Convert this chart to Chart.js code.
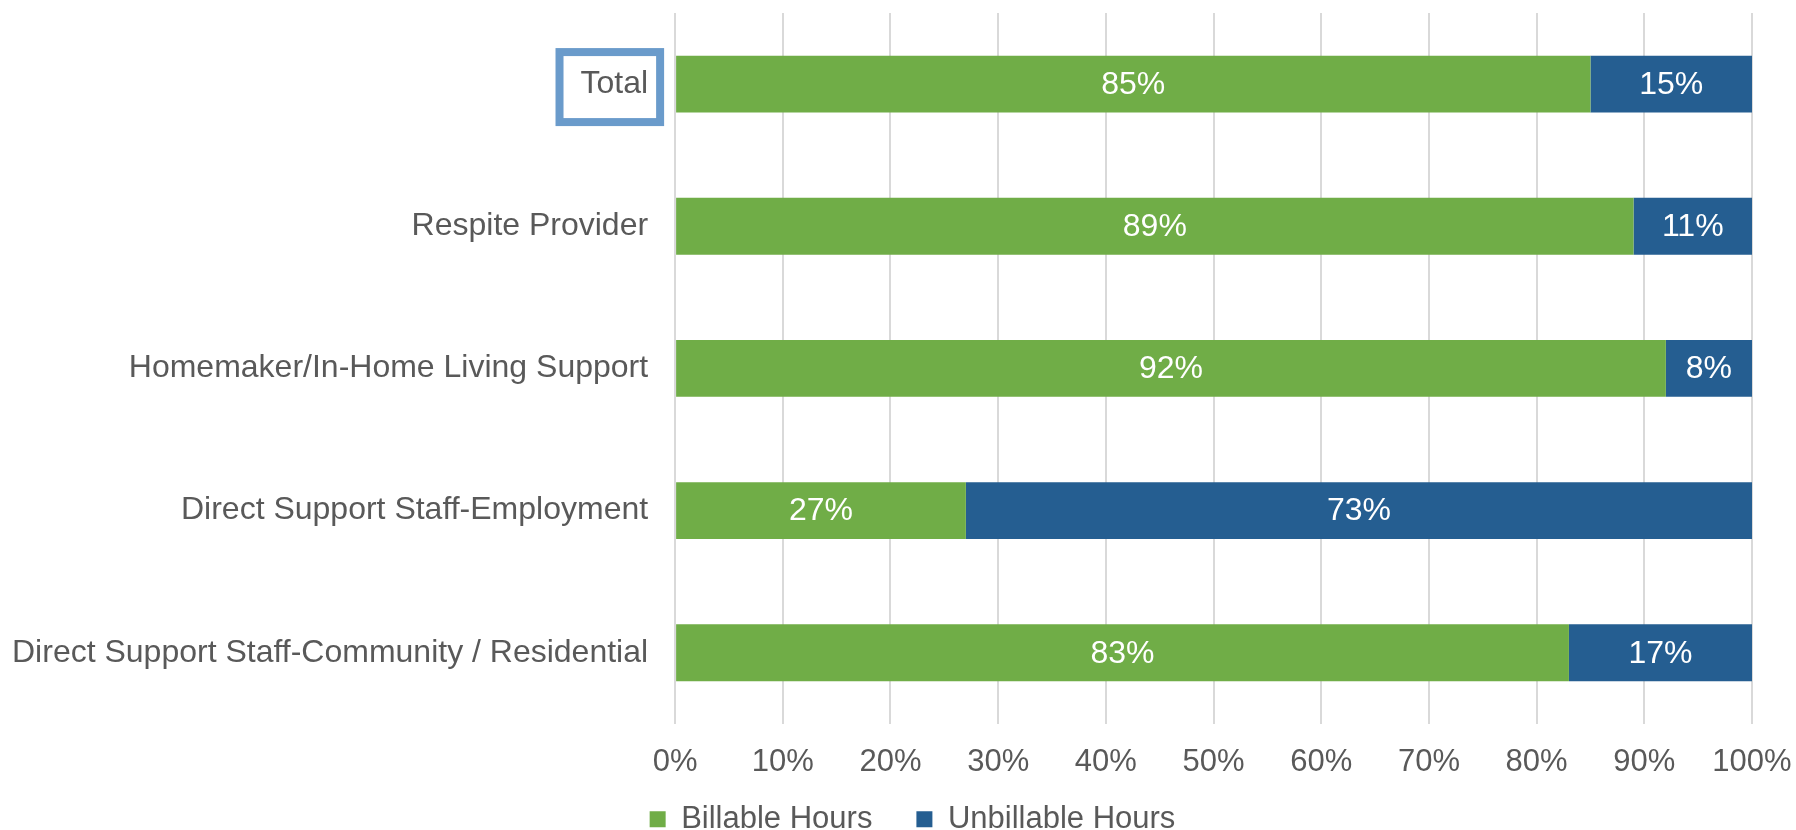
<!DOCTYPE html>
<html>
<head>
<meta charset="utf-8">
<script src="https://cdn.jsdelivr.net/npm/chart.js@4"></script>
<style>
  html, body { margin: 0; padding: 0; background: #fff; overflow: hidden; }
  #wrap { width: 1796px; height: 886px; position: relative; }
</style>
</head>
<body>
<div id="wrap"><canvas id="hoursChart"></canvas></div>
<script>
var categories = [
    'Total',
    'Respite Provider',
    'Homemaker/In-Home Living Support',
    'Direct Support Staff-Employment',
    'Direct Support Staff-Community / Residential'
];
var billable = [85, 89, 92, 27, 83];
var unbillable = [15, 11, 8, 73, 17];
var xTicks = [0, 10, 20, 30, 40, 50, 60, 70, 80, 90, 100];

var FONT = "'Liberation Sans', Arial, sans-serif";
var GREY = '#595959';
var LABEL_GAP = 19;

// white percentage in the middle of each bar segment
var segmentLabels = {
    id: 'segmentLabels',
    afterDatasetsDraw: function(chart) {
        var ctx = chart.ctx;
        ctx.save();
        ctx.font = '32px ' + FONT;
        ctx.fillStyle = '#ffffff';
        ctx.textAlign = 'center';
        ctx.textBaseline = 'middle';
        chart.data.datasets.forEach(function(ds, i) {
            chart.getDatasetMeta(i).data.forEach(function(bar, j) {
                var p = bar.getProps(['x', 'y', 'base'], true);
                ctx.fillText(Math.round(ds.data[j]) + '%', (p.x + p.base) / 2, p.y + 1);
            });
        });
        ctx.restore();
    }
};

// outline around the first category label
var totalBox = {
    id: 'totalBox',
    afterDraw: function(chart) {
        var y = chart.scales.y;
        var ctx = chart.ctx;
        ctx.save();
        ctx.font = '32px ' + FONT;
        var w = ctx.measureText(categories[0]).width;
        var textRight = chart.chartArea.left - LABEL_GAP - 8;
        var cy = y.getPixelForTick(0);
        ctx.strokeStyle = '#6A9BCB';
        ctx.lineWidth = 8;
        ctx.strokeRect(textRight - w - 21, cy - 32, w + 33, 70);
        ctx.restore();
    }
};

// sit the legend just under the axis labels
var legendPlace = {
    id: 'legendPlace',
    beforeDraw: function(chart) {
        var lg = chart.legend;
        var h = lg.height;
        lg.top = chart.chartArea.bottom + 36;
        lg.bottom = lg.top + h;
        lg.left = 31;
        lg.right = 1794;
    }
};

new Chart(document.getElementById('hoursChart'), {
    type: 'bar',
    data: {
        labels: categories,
        datasets: [
            { label: 'Billable Hours', data: billable, backgroundColor: '#70AD47' },
            { label: 'Unbillable Hours', data: unbillable, backgroundColor: '#255E91' }
        ]
    },
    options: {
        indexAxis: 'y',
        responsive: true,
        maintainAspectRatio: false,
        animation: false,
        categoryPercentage: 1,
        barPercentage: 0.4,
        layout: { padding: { top: 13, right: 44, left: -7, bottom: 0 } },
        scales: {
            x: {
                stacked: true,
                min: 0,
                max: 100,
                afterBuildTicks: function(axis) {
                    axis.ticks = xTicks.map(function(v) { return { value: v }; });
                },
                afterFit: function(axis) { axis.paddingLeft = 0; axis.paddingRight = 0; },
                grid: { color: '#D9D9D9', lineWidth: 2, drawTicks: false },
                border: { display: false },
                ticks: {
                    color: GREY,
                    padding: 20,
                    font: { family: FONT, size: 31 },
                    callback: function(v) { return v + '%'; }
                }
            },
            y: {
                stacked: true,
                afterFit: function(axis) { axis.paddingTop = 0; axis.paddingBottom = 0; },
                grid: { display: false },
                border: { display: false },
                ticks: {
                    color: GREY,
                    padding: LABEL_GAP,
                    font: { family: FONT, size: 32 }
                }
            }
        },
        plugins: {
            legend: {
                position: 'bottom',
                labels: {
                    color: GREY,
                    boxWidth: 16,
                    boxHeight: 16,
                    padding: 44,
                    font: { family: FONT, size: 31 }
                }
            },
            tooltip: { enabled: false }
        }
    },
    plugins: [segmentLabels, totalBox, legendPlace]
});
</script>
</body>
</html>
